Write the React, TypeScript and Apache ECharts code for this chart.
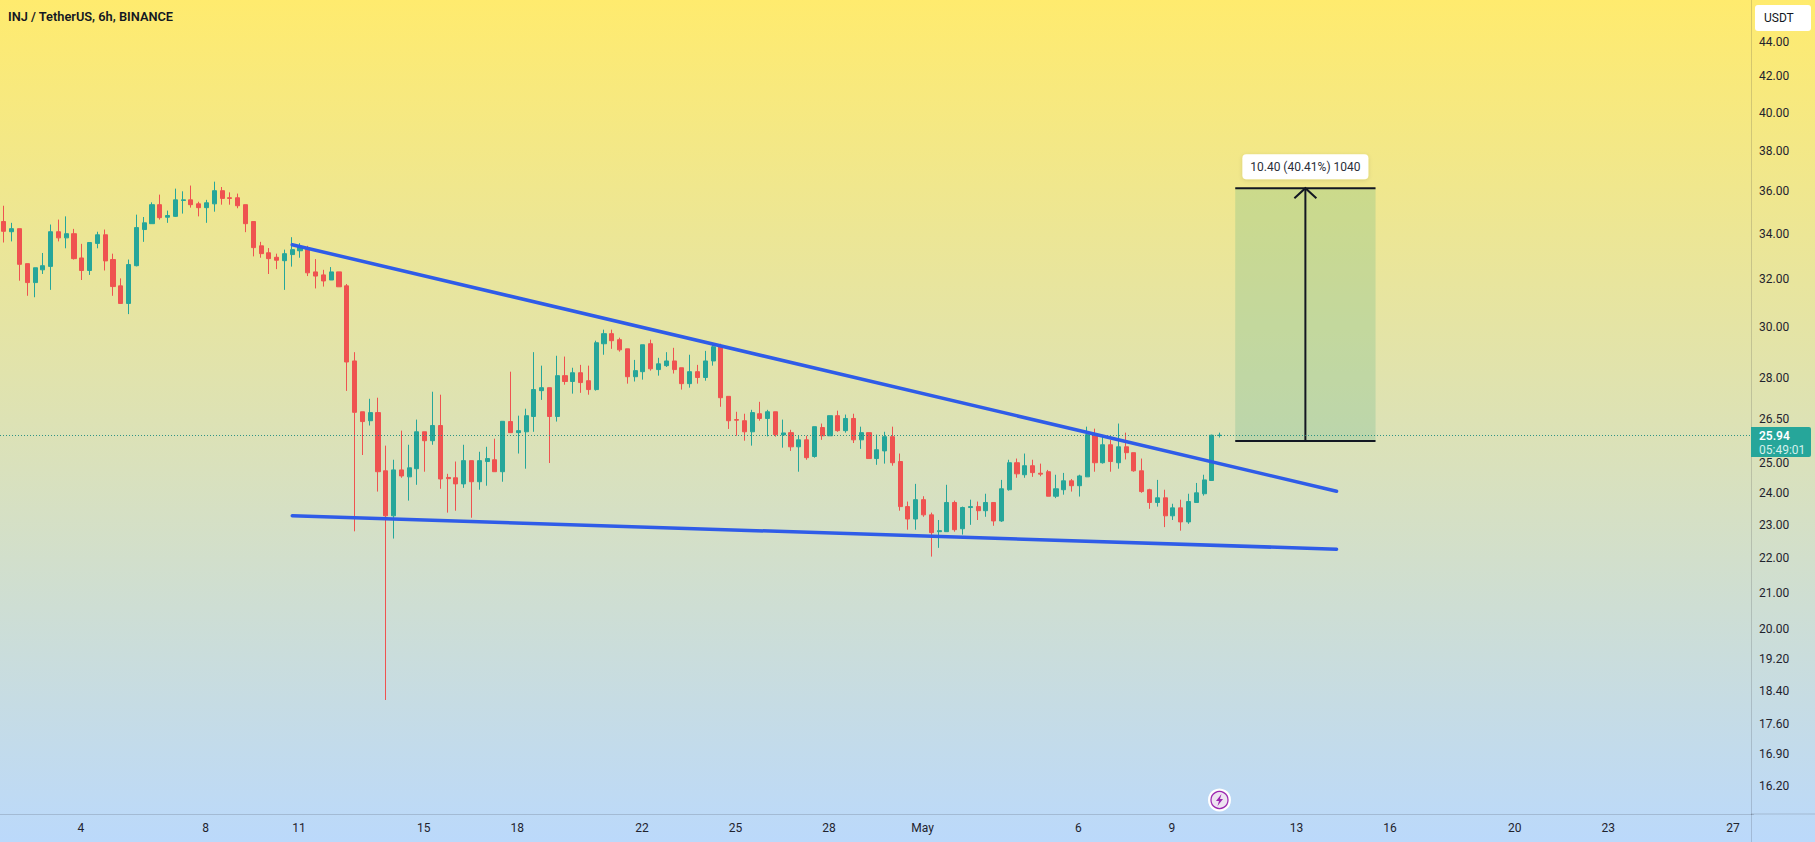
import React, { useEffect, useRef } from "react";
import * as echarts from "echarts";

const FONT = "Roboto, 'Noto Sans', sans-serif";
const UP = "#26A69A";
const DOWN = "#EF5350";

const opens = [
  34.56,34.09,34.23,32.66,31.84,32.39,32.54,34.09,33.81,34.00,
  32.91,32.36,33.56,33.95,32.84,31.70,30.96,32.57,34.19,34.46,
  35.35,34.76,34.80,35.55,35.58,35.39,35.21,35.39,36.02,35.68,
  35.68,35.35,34.56,33.45,33.14,32.94,32.79,33.06,33.23,33.37,
  32.30,32.17,31.95,32.30,31.70,28.66,26.77,26.45,26.74,24.73,
  23.28,24.76,24.53,24.80,26.06,25.75,26.28,24.51,24.50,24.30,
  25.07,24.37,25.04,25.10,24.70,26.42,26.03,26.06,26.60,27.54,
  27.65,26.60,28.10,27.88,28.21,27.91,27.58,29.33,29.73,29.49,
  29.13,28.06,28.25,29.33,28.33,28.48,28.66,28.40,27.80,28.25,
  28.03,28.66,29.25,27.33,26.49,26.45,26.06,26.70,26.53,26.77,
  25.95,26.03,25.54,25.78,25.21,26.21,25.92,26.63,26.10,26.53,
  25.78,26.03,25.14,25.40,25.89,25.04,23.57,23.18,23.79,23.31,
  22.79,22.79,23.70,22.88,23.54,23.57,23.44,23.70,23.12,24.11,
  25.00,24.60,24.90,24.65,24.70,23.90,24.11,24.40,24.24,24.53,
  25.96,25.00,25.61,25.00,25.54,25.34,24.73,24.11,23.70,23.85,
  23.28,23.53,23.09,23.70,23.98,24.41,25.93,
];
const closes = [
  34.11,34.23,32.63,31.84,32.48,32.57,34.09,33.81,34.00,32.88,
  32.36,33.60,33.95,32.78,31.67,30.96,32.62,34.28,34.50,35.35,
  34.74,34.84,35.58,35.58,35.35,35.21,35.44,36.02,35.65,35.65,
  35.30,34.46,33.37,33.10,32.88,32.81,33.10,33.28,33.40,32.26,
  32.12,31.91,32.30,31.66,28.62,26.75,26.42,26.74,24.70,23.28,
  24.76,24.56,24.83,26.06,25.75,26.28,24.46,24.47,24.30,25.07,
  24.37,25.07,25.14,24.70,26.43,26.03,26.10,26.63,27.58,27.65,
  26.60,28.10,27.88,28.21,27.84,27.58,29.37,29.73,29.45,29.09,
  28.06,28.29,29.29,28.36,28.55,28.66,28.33,27.80,28.25,28.03,
  28.66,29.21,27.28,26.45,26.47,26.06,26.74,26.53,26.77,25.96,
  26.02,25.54,25.78,25.17,26.24,25.92,26.63,26.10,26.53,25.78,
  26.03,25.14,25.44,25.89,25.00,23.57,23.18,23.79,23.31,22.76,
  22.82,23.70,22.85,23.54,23.57,23.44,23.70,23.12,24.14,25.00,
  24.63,24.90,24.67,24.62,23.90,24.14,24.40,24.24,24.56,25.96,
  25.00,25.61,25.04,25.54,25.34,24.73,24.05,23.70,23.85,23.28,
  23.53,23.09,23.73,24.01,24.43,25.94,25.94,
];
const lows = [
  33.60,33.65,31.92,31.28,31.22,32.21,31.53,33.65,33.34,32.84,
  31.95,32.17,33.34,32.36,31.28,30.96,30.52,32.54,33.63,34.46,
  34.65,34.50,34.77,34.93,35.21,34.80,34.50,35.02,35.35,35.35,
  35.18,34.07,32.98,32.92,32.21,32.42,31.53,32.53,32.92,32.12,
  31.59,31.67,31.95,31.66,27.53,22.80,25.26,26.28,24.05,18.18,
  22.58,24.50,23.76,24.27,24.70,25.61,24.14,23.38,23.44,24.17,
  23.22,24.11,24.24,24.70,24.37,26.03,25.31,24.80,26.06,27.20,
  24.99,26.42,27.76,27.43,27.46,27.39,27.54,28.90,29.13,29.02,
  27.80,27.88,27.95,28.29,28.10,28.43,28.18,27.58,27.65,27.80,
  27.91,28.48,26.95,26.16,25.92,25.75,25.58,26.45,25.90,25.89,
  25.51,25.40,24.70,25.10,25.17,25.78,25.92,26.06,26.03,25.67,
  25.47,25.14,24.93,24.97,24.90,23.44,22.85,22.85,23.25,22.04,
  22.30,22.79,22.79,22.70,23.00,23.15,23.25,22.97,23.09,24.08,
  24.50,24.50,24.53,24.55,23.90,23.84,23.95,24.05,23.89,24.53,
  24.70,24.97,24.70,24.80,25.11,24.70,24.01,23.50,23.57,22.93,
  23.15,22.82,23.03,23.70,23.92,24.41,25.86,
];
const highs = [
  35.30,34.50,34.23,32.66,32.48,33.13,34.42,34.65,34.80,34.22,
  33.54,33.60,34.09,34.19,33.10,32.02,32.84,34.88,34.77,35.46,
  35.83,35.07,36.12,35.99,36.27,35.49,35.58,36.46,36.20,35.94,
  35.88,35.35,34.56,33.63,33.35,33.10,33.28,33.84,33.57,33.45,
  32.86,32.39,32.51,32.30,31.78,29.00,26.77,27.24,27.28,25.58,
  25.10,26.10,25.61,26.49,26.06,27.50,27.39,24.63,25.04,25.61,
  25.07,25.37,25.54,25.82,26.43,28.25,26.63,26.88,29.00,28.48,
  27.65,28.86,28.83,28.40,28.51,28.48,29.45,29.89,29.89,29.57,
  29.13,28.70,29.29,29.49,28.78,29.00,29.17,28.40,28.90,28.51,
  29.05,29.29,29.33,27.33,26.77,26.70,26.84,27.13,26.84,26.77,
  26.49,26.13,25.92,25.92,26.24,26.35,26.63,26.81,26.67,26.70,
  26.24,26.03,25.96,26.06,26.24,25.31,23.73,24.30,23.90,23.38,
  23.15,24.27,23.76,23.57,23.79,23.73,23.98,23.70,24.43,25.10,
  25.14,25.31,25.10,24.97,24.76,24.60,24.66,24.46,24.60,26.24,
  26.17,25.92,25.78,26.35,26.03,25.34,25.14,24.14,24.43,24.11,
  23.66,23.79,23.98,24.33,24.60,25.96,26.03,
];

const priceTicks = [44, 42, 40, 38, 36, 34, 32, 30, 28, 26.5, 25, 24, 23, 22, 21, 20, 19.2, 18.4, 17.6, 16.9, 16.2];
const dateTicks: Record<string, string> = {
  "Apr 4": "4", "Apr 8": "8", "Apr 11": "11", "Apr 15": "15", "Apr 18": "18", "Apr 22": "22", "Apr 25": "25",
  "Apr 28": "28", "May 1": "May", "May 6": "6", "May 9": "9", "May 13": "13", "May 16": "16", "May 20": "20",
  "May 23": "23", "May 27": "27",
};
const MONTHS = ["Jan", "Feb", "Mar", "Apr", "May", "Jun"];
const SLOT_COUNT = 225;
const categories: string[] = [];
for (let i = 0; i < SLOT_COUNT; i++) {
  const d = new Date(Date.UTC(2024, 3, 1, 12 + i * 6));
  categories.push(`${MONTHS[d.getUTCMonth()]} ${d.getUTCDate()}|${d.getUTCHours()}`);
}

const lastPrice = 25.94;
const trendSlots = [37, 171];
const upperTrend = [33.5, 24.06];
const lowerTrend = [23.28, 22.26];
const measure = [[158, 176, 167, 36.14, 25.74]];
const measureText = "10.40 (40.41%) 1040";

export default function App() {
  const ref = useRef<HTMLDivElement>(null);
  useEffect(() => {
    const chart = echarts.init(ref.current!, undefined, { renderer: "svg" });
    const candles = opens.map((o, i) => [o, closes[i], lows[i], highs[i]]);
    const trendLine = (ys: number[]) => ({
      type: "line",
      data: trendSlots.map((x, i) => [x, ys[i]]),
      symbol: "none",
      silent: true,
      z: 5,
      lineStyle: { color: "#2F5CE8", width: 3.5, cap: "round" },
    });
    chart.setOption({
      animation: false,
      backgroundColor: new echarts.graphic.LinearGradient(0, 0, 0, 1, [
        { offset: 0, color: "#FFEB6E" },
        { offset: 1, color: "#BBD9FB" },
      ]),
      textStyle: { fontFamily: FONT },
      grid: { left: -1.5, top: 0, width: 1755, height: 814, containLabel: false },
      xAxis: {
        type: "category",
        data: categories,
        boundaryGap: true,
        axisLine: { show: true, lineStyle: { color: "#2A2E39", opacity: 0.18, width: 1 } },
        axisTick: { show: false },
        splitLine: { show: false },
        axisLabel: {
          interval: (_: number, v: string) => {
            const [day, hour] = v.split("|");
            return hour === "0" && dateTicks[day] !== undefined;
          },
          formatter: (v: string) => dateTicks[v.split("|")[0]] ?? "",
          color: "#1F232E",
          fontFamily: FONT,
          fontSize: 12,
          margin: 8,
          padding: [0, 2, 0, 0],
          hideOverlap: false,
        },
      },
      yAxis: {
        type: "log",
        logBase: 10,
        min: 15.6,
        max: 46.53,
        position: "right",
        offset: -2.5,
        axisLine: { show: true, lineStyle: { color: "#2A2E39", opacity: 0.18, width: 1 } },
        axisTick: { show: false },
        splitLine: { show: false },
        minorSplitLine: { show: false },
        axisLabel: {
          customValues: priceTicks,
          formatter: (v: number) => v.toFixed(2),
          color: "#1F232E",
          fontFamily: FONT,
          fontSize: 12,
          margin: 8,
          showMinLabel: true,
          showMaxLabel: true,
        },
      },
      series: [
        {
          type: "candlestick",
          data: candles,
          barWidth: 4.6,
          silent: true,
          z: 3,
          itemStyle: { color: UP, color0: DOWN, borderColor: UP, borderColor0: DOWN, borderWidth: 1 },
          markLine: {
            silent: true,
            symbol: "none",
            label: { show: false },
            lineStyle: { color: "#1E8C80", type: [1, 2], width: 1, opacity: 0.9 },
            data: [{ yAxis: lastPrice }],
          },
        },
        trendLine(upperTrend),
        trendLine(lowerTrend),
        {
          type: "custom",
          data: measure,
          encode: { x: [0, 1, 2], y: [3, 4] },
          silent: true,
          z: 4,
          clip: false,
          renderItem: (_: any, api: any) => {
            const [x0, yTop] = api.coord([api.value(0), api.value(3)]);
            const [x1, yBot] = api.coord([api.value(1), api.value(4)]);
            const [cx] = api.coord([api.value(2), api.value(3)]);
            const ink = "#131722";
            const ln = (a: number, b: number, c: number, d: number) => ({
              type: "line",
              shape: { x1: a, y1: b, x2: c, y2: d },
              style: { stroke: ink, lineWidth: 2 },
            });
            return {
              type: "group",
              children: [
                {
                  type: "rect",
                  shape: { x: x0, y: yTop, width: x1 - x0, height: yBot - yTop },
                  style: { fill: "rgba(76,175,130,0.22)" },
                },
                ln(x0, yTop, x1, yTop),
                ln(x0, yBot, x1, yBot),
                ln(cx, yTop, cx, yBot),
                {
                  type: "polyline",
                  shape: { points: [[cx - 11, yTop + 10], [cx, yTop], [cx + 11, yTop + 10]] },
                  style: { stroke: ink, lineWidth: 2, fill: "none" },
                },
                {
                  type: "rect",
                  shape: { x: cx - 63, y: yTop - 34, width: 126, height: 25, r: 4 },
                  style: { fill: "#FFFFFF", shadowBlur: 4, shadowColor: "rgba(0,0,0,0.12)", shadowOffsetY: 1 },
                },
                {
                  type: "text",
                  style: {
                    text: measureText,
                    x: cx,
                    y: yTop - 21.5,
                    align: "center",
                    verticalAlign: "middle",
                    fill: "#2A2E39",
                    font: `12px ${FONT}`,
                  },
                },
              ],
            };
          },
        },
      ],
      graphic: [
        {
          type: "text",
          x: 8,
          y: 16.5,
          z: 20,
          style: {
            text: "INJ / TetherUS, 6h, BINANCE",
            fill: "#131722",
            font: `600 12.8px ${FONT}`,
            textVerticalAlign: "middle",
          },
        },
        { type: "line", z: 1, shape: { x1: 1751, y1: 814, x2: 1815, y2: 814 }, style: { stroke: "rgba(42,46,57,0.18)", lineWidth: 1 } },
        { type: "line", z: 1, shape: { x1: 1751.5, y1: 814, x2: 1751.5, y2: 842 }, style: { stroke: "rgba(42,46,57,0.18)", lineWidth: 1 } },
        {
          type: "rect",
          z: 20,
          shape: { x: 1755, y: 5, width: 56, height: 26, r: 3 },
          style: { fill: "#FFFFFF" },
        },
        {
          type: "text",
          z: 21,
          x: 1764,
          y: 18,
          style: { text: "USDT", fill: "#131722", font: `12px ${FONT}`, textVerticalAlign: "middle" },
        },
        {
          type: "rect",
          z: 20,
          shape: { x: 1751, y: 427, width: 60, height: 30, r: [0, 2, 2, 0] },
          style: { fill: UP },
        },
        {
          type: "text",
          z: 21,
          x: 1759,
          y: 436,
          style: { text: "25.94", fill: "#FFFFFF", font: `600 12px ${FONT}`, textVerticalAlign: "middle" },
        },
        {
          type: "text",
          z: 21,
          x: 1759,
          y: 450,
          style: { text: "05:49:01", fill: "#D5F0EC", font: `12px ${FONT}`, textVerticalAlign: "middle" },
        },
        {
          type: "circle",
          z: 20,
          shape: { cx: 1219.5, cy: 800, r: 10.5 },
          style: { fill: "#F3E5F5", stroke: "#FFFFFF", lineWidth: 2 },
        },
        {
          type: "circle",
          z: 20,
          shape: { cx: 1219.5, cy: 800, r: 8.5 },
          style: { fill: "#EDE3F1", stroke: "#9C27B0", lineWidth: 1.2 },
        },
        {
          type: "polygon",
          z: 21,
          shape: {
            points: [
              [1221.5, 794], [1216, 801], [1219, 801], [1217.5, 806], [1223, 799], [1220, 799],
            ],
          },
          style: { fill: "#9C27B0" },
        },
      ],
    });
    return () => chart.dispose();
  }, []);
  return <div ref={ref} style={{ position: "absolute", left: 0, top: 0, width: 1815, height: 842 }} />;
}
